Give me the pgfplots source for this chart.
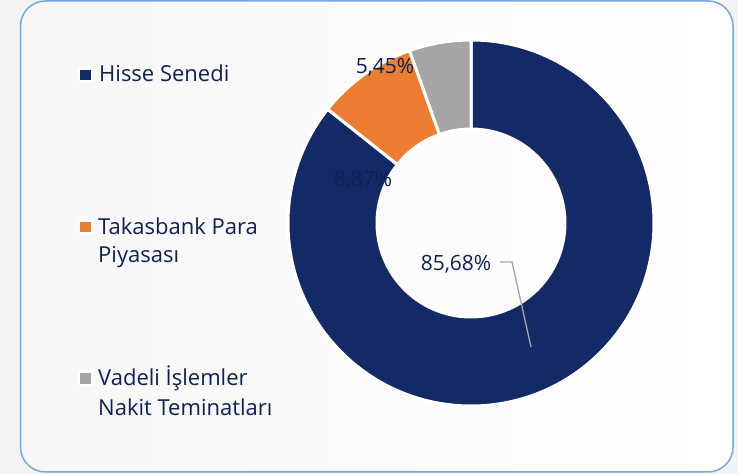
\documentclass[border=0pt]{standalone}
\usepackage{pgfplots}
\pgfplotsset{compat=1.18}
\usepackage{pgfplotstable}
\usepackage{fontspec}
\setmainfont{Open Sans}
\definecolor{navy}{HTML}{142A66}
\definecolor{orng}{HTML}{ED7D31}
\definecolor{gry}{HTML}{A5A5A5}
\definecolor{txt}{HTML}{0D2152}
\definecolor{framec}{HTML}{78A6DF}
\definecolor{bgout}{HTML}{F3F3F3}
\definecolor{bgin}{HTML}{F7F7F7}
\pgfplotstableread{
idx value
0 85.68
1 8.87
2 5.45
}\shares
\pgfplotstablegetelem{0}{value}\of\shares \pgfmathsetmacro\va{\pgfplotsretval}
\pgfplotstablegetelem{1}{value}\of\shares \pgfmathsetmacro\vb{\pgfplotsretval}
\pgfplotstablegetelem{2}{value}\of\shares \pgfmathsetmacro\vc{\pgfplotsretval}
\pgfmathsetmacro\aA{90}
\pgfmathsetmacro\aB{90-3.6*\va}
\pgfmathsetmacro\aC{\aB-3.6*\vb}
\pgfmathsetmacro\aD{\aC-3.6*\vc}
\newcommand\sector[3]{%
  \fill[#3, draw=white, line width=3bp, line join=miter]
    (axis cs:{471+183*cos(#1)},{251+183*sin(#1)})
    arc[start angle=#1, end angle=#2, radius=183bp]
    -- (axis cs:{471+94*cos(#2)},{251+94*sin(#2)})
    arc[start angle=#2, end angle=#1, radius=94bp] -- cycle;}
\begin{document}
\begin{tikzpicture}
\fill[bgout] (0,0) rectangle (738bp,474bp);
\shade[left color=bgin, right color=white, rounded corners=25bp] (20.5bp,2bp) rectangle (733bp,473bp);
\draw[framec, line width=1.5bp, rounded corners=25bp] (20.5bp,2bp) rectangle (733bp,473bp);
\begin{axis}[at={(0,0)}, anchor=south west, scale only axis, x=1bp, y=1bp,
  xmin=0, xmax=738, ymin=0, ymax=474, hide axis, clip=false]
\sector{\aA}{\aB}{navy}
\sector{\aB}{\aC}{orng}
\sector{\aC}{\aD}{gry}
% data labels
\node[anchor=base, inner sep=0, text=txt, font=\fontsize{21bp}{25bp}\selectfont] at (axis cs:385,400) {5,45\%};
\node[anchor=base, inner sep=0, text=txt, font=\fontsize{21bp}{25bp}\selectfont] at (axis cs:363,287) {8,87\%};
\node[anchor=base, inner sep=0, text=txt, font=\fontsize{21bp}{25bp}\selectfont] at (axis cs:456,203) {85,68\%};
\draw[gry, line width=1.3bp] (axis cs:500,212) -- (axis cs:512,212) -- (axis cs:531,127);
% legend
\filldraw[navy, draw=white, line width=2bp] (axis cs:79,393) rectangle (axis cs:92,405);
\filldraw[orng, draw=white, line width=2bp] (axis cs:79,241) rectangle (axis cs:92,253);
\filldraw[gry, draw=white, line width=2bp] (axis cs:79,89) rectangle (axis cs:92,102);
\begin{scope}[every node/.style={anchor=base west, inner sep=0, text=txt, font=\fontsize{22bp}{26bp}\selectfont}]
\node at (axis cs:99,392) {Hisse Senedi};
\node at (axis cs:98,239) {Takasbank Para};
\node at (axis cs:98,211) {Piyasası};
\node at (axis cs:98,88) {Vadeli İşlemler};
\node at (axis cs:98,58) {Nakit Teminatları};
\end{scope}
\end{axis}
\end{tikzpicture}
\end{document}
